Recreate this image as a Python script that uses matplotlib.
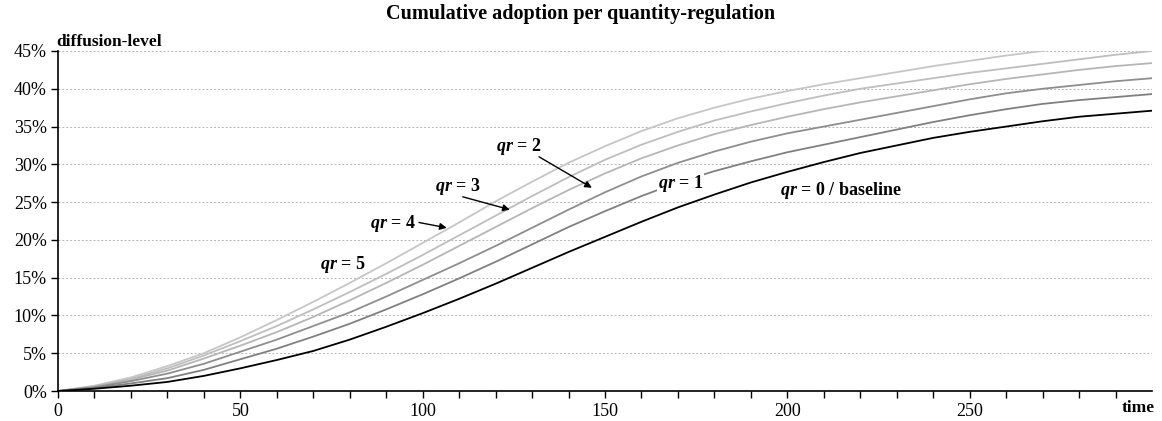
import numpy as np
import matplotlib
matplotlib.use("Agg")
import matplotlib.pyplot as plt
from matplotlib.ticker import FixedLocator, MultipleLocator, FuncFormatter

plt.rcParams['font.family'] = ['Liberation Serif', 'DejaVu Serif']
plt.rcParams['mathtext.fontset'] = 'custom'
plt.rcParams['mathtext.rm'] = 'Liberation Serif:bold'
plt.rcParams['mathtext.it'] = 'Liberation Serif:italic:bold'
plt.rcParams['mathtext.bf'] = 'Liberation Serif:bold'

# zeit (0..300, alle 10)
time = list(range(0, 301, 10))

# diffusion level in %
qr0 = [0, 0.3, 0.7, 1.2, 2.0, 3.0, 4.1, 5.3, 6.8, 8.5, 10.3, 12.2, 14.2, 16.3, 18.4, 20.4,
       22.4, 24.3, 26.0, 27.6, 29.0, 30.3, 31.5, 32.5, 33.5, 34.3, 35.0, 35.7, 36.3, 36.7, 37.1]
qr1 = [0, 0.4, 1.0, 1.7, 2.8, 4.2, 5.6, 7.2, 8.9, 10.8, 12.8, 14.9, 17.1, 19.4, 21.7, 23.8,
       25.8, 27.6, 29.1, 30.4, 31.6, 32.6, 33.6, 34.6, 35.6, 36.5, 37.3, 38.0, 38.5, 38.9, 39.3]
qr2 = [0, 0.5, 1.3, 2.3, 3.6, 5.2, 6.8, 8.6, 10.4, 12.5, 14.7, 16.9, 19.2, 21.6, 24.0, 26.3,
       28.4, 30.2, 31.7, 33.0, 34.1, 35.0, 35.9, 36.8, 37.7, 38.6, 39.4, 40.0, 40.5, 41.0, 41.4]
qr3 = [0, 0.6, 1.5, 2.7, 4.3, 6.0, 7.8, 9.8, 12.0, 14.3, 16.7, 19.2, 21.7, 24.2, 26.6, 28.8,
       30.8, 32.5, 34.0, 35.2, 36.3, 37.3, 38.2, 39.0, 39.8, 40.6, 41.3, 41.9, 42.5, 43.0, 43.4]
qr4 = [0, 0.6, 1.6, 3.0, 4.7, 6.6, 8.6, 10.8, 13.1, 15.5, 18.0, 20.6, 23.2, 25.8, 28.3, 30.6,
       32.6, 34.3, 35.8, 37.0, 38.1, 39.1, 40.0, 40.7, 41.4, 42.1, 42.7, 43.3, 43.9, 44.5, 45.0]
qr5 = [0, 0.7, 1.8, 3.3, 5.0, 7.1, 9.4, 11.8, 14.3, 16.9, 19.6, 22.3, 25.1, 27.7, 30.2, 32.4,
       34.4, 36.1, 37.5, 38.7, 39.7, 40.6, 41.4, 42.2, 43.0, 43.7, 44.4, 45.0, 45.6, 46.2, 46.7]

series = [qr5, qr4, qr3, qr2, qr1, qr0]
colors = ['#c6c6c6', '#bebebe', '#b6b6b6', '#8e8e8e', '#808080', '#000000']

x_major = [0, 50, 100, 150, 200, 250]

fig = plt.figure(figsize=(11.62, 4.21), dpi=100)
ax = fig.add_axes([58/1162, 1-391/421, (1152-58)/1162, (391-51)/421])

for s, c in zip(series, colors):
    ax.plot(time, s, color=c, lw=1.3)

ax.set_xlim(0, 300)
ax.set_ylim(0, 45)
ax.xaxis.set_major_locator(FixedLocator(x_major))
ax.xaxis.set_minor_locator(FixedLocator(list(range(10, 300, 10))))
ax.yaxis.set_major_locator(MultipleLocator(5))
ax.yaxis.set_major_formatter(FuncFormatter(lambda v, p: f"{v:.0f}%"))
ax.tick_params(which='both', direction='out', length=5, width=1, labelsize=13)
ax.tick_params(axis='x', pad=4)
ax.tick_params(axis='y', pad=3)
ax.grid(axis='y', color='#b4b4b4', ls=(0, (2, 2)), lw=0.7)
ax.set_axisbelow(True)
for sp in ['top', 'right']:
    ax.spines[sp].set_visible(False)
ax.spines['left'].set_linewidth(1.2)
ax.spines['bottom'].set_linewidth(1.2)

fig.text(0.5, 1-14/421, 'Cumulative adoption per quantity-regulation',
         ha='center', va='center', fontsize=14.5, fontweight='bold')
fig.text(56/1162, 1-42/421, 'diffusion-level', ha='left', va='center',
         fontsize=12.5, fontweight='bold')
fig.text(1155/1162, 1-408/421, 'time', ha='right', va='center',
         fontsize=12.5, fontweight='bold')

lab = dict(fontsize=13, ha='left', va='center', fontweight='bold')
ax.text(71.8, 16.8, r'$qr$ = 5', **lab)
ax.text(164.5, 27.5, r'$qr$ = 1', zorder=5,
        bbox=dict(facecolor='white', edgecolor='none', pad=0.5), **lab)
ax.text(197.9, 26.5, r'$qr$ = 0 / baseline', **lab)

arr = dict(arrowstyle='-|>', color='black', lw=1, mutation_scale=10, shrinkA=0, shrinkB=0)
ax.annotate('', xy=(106.6, 21.6), xytext=(99.0, 22.3), arrowprops=arr)
ax.text(85.5, 22.2, r'$qr$ = 4', **lab)
ax.annotate('', xy=(123.9, 24.0), xytext=(111.0, 25.7), arrowprops=arr)
ax.text(103.3, 27.0, r'$qr$ = 3', **lab)
ax.annotate('', xy=(146.4, 26.9), xytext=(131.9, 31.0), arrowprops=arr)
ax.text(120.1, 32.3, r'$qr$ = 2', **lab)

fig.savefig('out.png', dpi=100)
